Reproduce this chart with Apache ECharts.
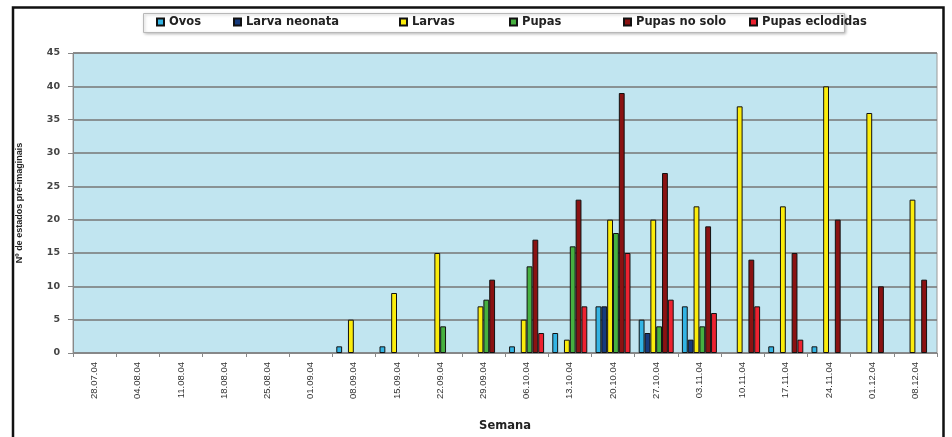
<!DOCTYPE html>
<html>
<head>
<meta charset="utf-8">
<script src="https://cdn.jsdelivr.net/npm/echarts@6/dist/echarts.min.js"></script>
<style>
  html, body { margin: 0; padding: 0; background: #ffffff; }
  #chart { width: 952px; height: 437px; }
</style>
</head>
<body>
<div id="chart"></div>
<script>
// Weekly sampling dates
const weeks = ['28.07.04', '04.08.04', '11.08.04', '18.08.04', '25.08.04', '01.09.04',
  '08.09.04', '15.09.04', '22.09.04', '29.09.04', '06.10.04', '13.10.04', '20.10.04',
  '27.10.04', '03.11.04', '10.11.04', '17.11.04', '24.11.04', '01.12.04', '08.12.04'];

const yTicks = [0, 5, 10, 15, 20, 25, 30, 35, 40, 45];

// Counts per stage (null = none recorded)
const ovos          = [null, null, null, null, null, null, 1, 1, null, null, 1, 3, 7, 5, 7, null, 1, 1, null, null];
const larvaNeonata  = [null, null, null, null, null, null, null, null, null, null, null, null, 7, 3, 2, null, null, null, null, null];
const larvas        = [null, null, null, null, null, null, 5, 9, 15, 7, 5, 2, 20, 20, 22, 37, 22, 40, 36, 23];
const pupas         = [null, null, null, null, null, null, null, null, 4, 8, 13, 16, 18, 4, 4, null, null, null, null, null];
const pupasNoSolo   = [null, null, null, null, null, null, null, null, null, 11, 17, 23, 39, 27, 19, 14, 15, 20, 10, 11];
const pupasEclodidas= [null, null, null, null, null, null, null, null, null, null, 3, 7, 15, 8, 6, 7, 2, null, null, null];

const seriesDefs = [
  { name: 'Ovos',            data: ovos,           color: '#33b4e4', legendLeft: 156 },
  { name: 'Larva neonata',   data: larvaNeonata,   color: '#163a7c', legendLeft: 233 },
  { name: 'Larvas',          data: larvas,         color: '#fbec0c', legendLeft: 399 },
  { name: 'Pupas',           data: pupas,          color: '#46b040', legendLeft: 509 },
  { name: 'Pupas no solo',   data: pupasNoSolo,    color: '#8a1212', legendLeft: 623 },
  { name: 'Pupas eclodidas', data: pupasEclodidas, color: '#ec2230', legendLeft: 749 }
];

const chart = echarts.init(document.getElementById('chart'), null, { renderer: 'canvas' });

const option = {
  backgroundColor: '#ffffff',
  animation: false,
  graphic: [
    // outer frame (left, top, right edges)
    { type: 'polyline', z: 100, shape: { points: [[13, 437], [13, 7.5], [943.5, 7.5], [943.5, 437]] },
      style: { stroke: '#111', lineWidth: 2.5, fill: null } },
    // legend box
    { type: 'rect', z: 1, shape: { x: 143.5, y: 13.5, width: 701, height: 19 },
      style: { fill: '#ffffff', stroke: '#b8b8b8', lineWidth: 1,
               shadowBlur: 3, shadowOffsetX: 1, shadowOffsetY: 1, shadowColor: 'rgba(0,0,0,0.25)' } }
  ],
  legend: seriesDefs.map(s => ({
    data: [s.name],
    left: s.legendLeft,
    top: 16,
    padding: 0,
    z: 10,
    itemWidth: 7,
    itemHeight: 7,
    itemGap: 0,
    icon: 'rect',
    selectedMode: false,
    textStyle: { fontFamily: 'DejaVu Sans', fontWeight: 'bold', fontSize: 11.5, color: '#222', padding: [0, 0, 0, 0] }
  })),
  grid: {
    left: 73, right: 15, top: 53, bottom: 75,
    show: true,
    backgroundColor: '#c1e5f0',
    borderColor: '#9a9a9a',
    borderWidth: 1
  },
  xAxis: {
    type: 'category',
    data: weeks,
    name: 'Semana',
    nameLocation: 'middle',
    nameGap: 67,
    nameTextStyle: { fontFamily: 'DejaVu Sans', fontWeight: 'bold', fontSize: 11.5, color: '#222' },
    axisLine: { show: true, lineStyle: { color: '#888', width: 1 } },
    axisTick: { show: true, length: 4, lineStyle: { color: '#888' } },
    axisLabel: { rotate: 90, margin: 9, fontFamily: 'Liberation Sans', fontSize: 9.5, color: '#333', interval: 0 },
    splitLine: { show: false }
  },
  yAxis: {
    type: 'value',
    min: yTicks[0],
    max: yTicks[yTicks.length - 1],
    interval: 5,
    name: 'Nº de estados pré-imaginais',
    nameLocation: 'middle',
    nameGap: 49,
    nameTextStyle: { fontFamily: 'Liberation Sans', fontWeight: 'bold', fontSize: 9, color: '#222' },
    axisLine: { show: true, lineStyle: { color: '#888', width: 1 } },
    axisTick: { show: true, length: 5, lineStyle: { color: '#888' } },
    axisLabel: { margin: 13, fontFamily: 'DejaVu Sans', fontWeight: 'bold', fontSize: 9.5, color: '#444' },
    splitLine: { show: true, lineStyle: { color: '#767676', width: 1.5 } }
  },
  series: seriesDefs.map(s => ({
    name: s.name,
    type: 'bar',
    data: s.data,
    barGap: '0%',
    barCategoryGap: '19%',
    itemStyle: { color: s.color, borderColor: '#111', borderWidth: 1 }
  }))
};

chart.setOption(option);
</script>
</body>
</html>
